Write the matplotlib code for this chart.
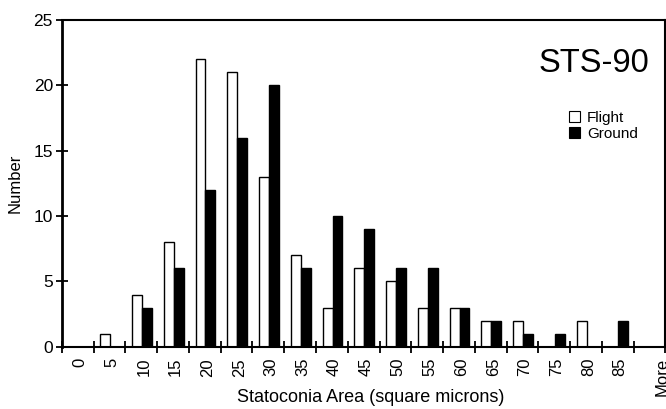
import matplotlib
matplotlib.use("Agg")
import matplotlib.pyplot as plt
import numpy as np
from matplotlib.patches import Patch

plt.rcParams["font.family"] = ["Liberation Sans", "DejaVu Sans"]

bins = ["0", "5", "10", "15", "20", "25", "30", "35", "40", "45",
        "50", "55", "60", "65", "70", "75", "80", "85", "More"]
flight = [0, 1, 4, 8, 22, 21, 13, 7, 3, 6, 5, 3, 3, 2, 2, 0, 2, 0, 0]
ground = [0, 0, 3, 6, 12, 16, 20, 6, 10, 9, 6, 6, 3, 2, 1, 1, 0, 2, 0]

fig = plt.figure(figsize=(6.66, 4.09), dpi=100)
ax = fig.add_axes([0.093, 0.152, 0.906, 0.799])

x = np.arange(len(bins))
w = 0.31
ax.bar(x - w / 2 + 0.02, flight, w, color="white", edgecolor="black", linewidth=1.0)
ax.bar(x + w / 2 + 0.02, ground, w, color="black", edgecolor="black", linewidth=1.0)

ax.set_xlim(-0.5, len(bins) - 0.5)
ax.set_ylim(0, 25)

# category boundaries carry the tick marks, centres carry the labels
ax.set_xticks(np.arange(-0.5, len(bins) - 0.4, 1.0))
ax.set_xticklabels([])
label_pos = x.astype(float) + 0.08
label_pos[-1] = len(bins) - 0.6
ax.set_xticks(label_pos, minor=True)
ax.set_xticklabels(bins, minor=True, rotation=90, fontsize=12)
ax.tick_params(axis="x", which="major", direction="inout", length=8, width=1.3)
ax.tick_params(axis="x", which="minor", length=0, pad=8)

ax.set_yticks([0, 5, 10, 15, 20, 25])
ax.tick_params(axis="y", direction="inout", length=9, width=1.3, labelsize=12.5, pad=2)

for side in ["left", "top", "right", "bottom"]:
    ax.spines[side].set_linewidth(1.5)
ax.spines["left"].set_linewidth(2)

ax.set_xlabel("Statoconia Area (square microns)", fontsize=13)
ax.xaxis.set_label_coords(0.512, -0.128)
ax.set_ylabel("Number", fontsize=12, labelpad=8)

ax.text(0.882, 0.868, "STS-90", transform=ax.transAxes, fontsize=23.5,
        ha="center", va="center")

handles = [Patch(facecolor="white", edgecolor="black", linewidth=0.8, label="Flight"),
           Patch(facecolor="black", edgecolor="black", linewidth=0.8, label="Ground")]
ax.legend(handles=handles, loc="upper left", bbox_to_anchor=(0.828, 0.746),
          frameon=False, fontsize=11, handlelength=0.7, handleheight=0.7,
          handletextpad=0.45, labelspacing=0.15, borderpad=0)

fig.savefig("out.png", dpi=100)
